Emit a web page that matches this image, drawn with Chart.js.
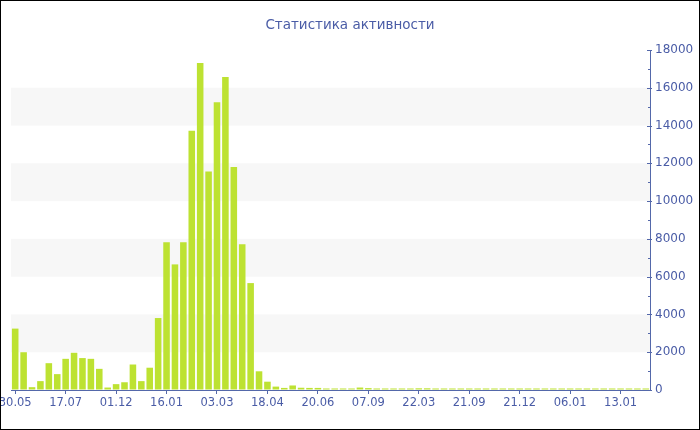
<!DOCTYPE html>
<html>
<head>
<meta charset="utf-8">
<script src="https://cdn.jsdelivr.net/npm/chart.js@4"></script>
<style>
  html, body { margin: 0; padding: 0; background: #fff; }
  #wrap { width: 700px; height: 430px; box-sizing: border-box; border: 1px solid #000; position: relative; }
  #c { display: block; }
</style>
</head>
<body>
<div id="wrap"><canvas id="c" width="698" height="428"></canvas></div>
<script>
const title = 'Статистика активности';
const tickLabels = ['30.05', '17.07', '01.12', '16.01', '03.03', '18.04', '20.06', '07.09', '22.03', '21.09', '21.12', '06.01', '13.01'];
const labelStep = 6;
const values = [
  3250, 2000, 150, 470, 1420, 840, 1650, 1970, 1690, 1650,
  1120, 130, 310, 410, 1350, 470, 1180, 3810, 7820, 6650,
  7820, 13720, 17310, 11570, 15230, 16570, 11810, 7710, 5660, 990,
  440, 180, 110, 240, 120, 110, 110, 80, 80, 80,
  80, 130, 100, 80, 80, 80, 80, 80, 90, 90,
  80, 80, 80, 80, 80, 80, 80, 80, 80, 80,
  80, 80, 80, 80, 80, 80, 80, 80, 80, 80,
  80, 80, 80, 80, 80, 80
];
const yMax = 18000;
const yMajor = 2000;
const yMinor = 1000;

const labels = values.map((_, i) => (i % labelStep === 0 ? (tickLabels[i / labelStep] || '') : ''));

const BLUE = '#4a5ca6';
const AXIS = '#5468aa';
const FONT = 'DejaVu Sans';

const bandsPlugin = {
  id: 'bands',
  beforeDatasetsDraw(chart) {
    const { ctx, chartArea } = chart;
    const y = chart.scales.y;
    ctx.save();
    ctx.fillStyle = '#f7f7f7';
    for (let v = yMajor; v < yMax; v += 2 * yMajor) {
      const top = y.getPixelForValue(v + yMajor);
      const bot = y.getPixelForValue(v);
      ctx.fillRect(chartArea.left, top, chartArea.right - chartArea.left, bot - top);
    }
    ctx.restore();
  }
};

const yTicksPlugin = {
  id: 'yticks',
  afterDraw(chart) {
    const { ctx } = chart;
    const y = chart.scales.y;
    ctx.save();
    ctx.strokeStyle = AXIS;
    ctx.lineWidth = 1;
    y.ticks.forEach((t) => {
      const py = Math.round(y.getPixelForValue(t.value)) + 0.5;
      const major = t.value % yMajor === 0;
      ctx.beginPath();
      ctx.moveTo(y.left - (major ? 3 : 2), py);
      ctx.lineTo(y.left + (major ? 2 : 0), py);
      ctx.stroke();
    });
    ctx.restore();
  }
};

const titlePlugin = {
  id: 'centerTitle',
  afterDraw(chart) {
    const { ctx } = chart;
    ctx.save();
    ctx.fillStyle = BLUE;
    ctx.font = '13.5px "' + FONT + '"';
    ctx.textAlign = 'center';
    ctx.textBaseline = 'middle';
    ctx.fillText(title, chart.width / 2, 24);
    ctx.restore();
  }
};

new Chart(document.getElementById('c'), {
  type: 'bar',
  data: {
    labels,
    datasets: [{
      data: values,
      backgroundColor: '#bde232',
      borderWidth: 0,
      barPercentage: 0.78,
      categoryPercentage: 1
    }]
  },
  options: {
    responsive: false,
    animation: false,
    layout: { padding: { left: 10, right: 0, top: 49, bottom: 0 } },
    plugins: {
      legend: { display: false },
      tooltip: { enabled: false },
      title: { display: false }
    },
    scales: {
      x: {
        grid: {
          offset: false,
          drawOnChartArea: false,
          drawTicks: true,
          tickLength: 4,
          tickColor: (c) => (labels[c.index] ? AXIS : 'rgba(0,0,0,0)'),
          color: 'rgba(0,0,0,0)'
        },
        border: { color: AXIS, width: 1 },
        ticks: {
          autoSkip: false,
          maxRotation: 0,
          minRotation: 0,
          padding: 2,
          color: BLUE,
          font: { family: FONT, size: 11.5 }
        },
        afterFit(s) { s.height = 39; s.paddingLeft = 0; s.paddingRight = 0; }
      },
      y: {
        position: 'right',
        min: 0,
        max: yMax,
        grid: { drawOnChartArea: false, drawTicks: false },
        border: { color: AXIS, width: 1 },
        ticks: {
          stepSize: yMinor,
          padding: 5,
          color: BLUE,
          font: { family: FONT, size: 12 },
          callback: (v) => (v % yMajor === 0 ? String(v) : '')
        },
        afterFit(s) { s.width = 49; }
      }
    }
  },
  plugins: [bandsPlugin, yTicksPlugin, titlePlugin]
});
</script>
</body>
</html>
